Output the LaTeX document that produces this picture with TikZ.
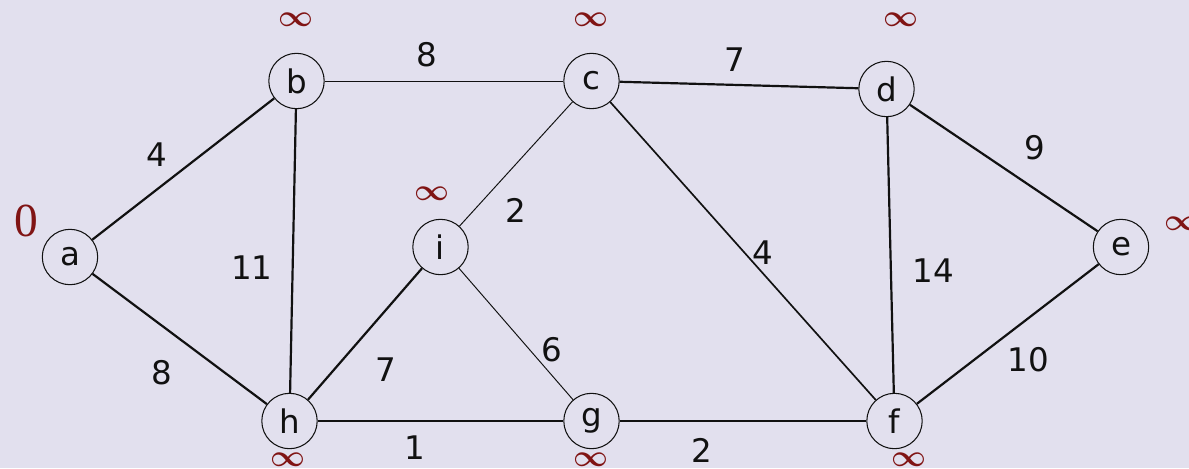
\documentclass[tikz,border=0pt]{standalone}
\usepackage{fontspec}
\setmainfont{DejaVu Sans}
\newfontfamily\numfont{Liberation Serif}
\usepackage{xcolor}
\definecolor{Canvas}{HTML}{E2E0EE}
\definecolor{Ink}{HTML}{111111}
\definecolor{DistRed}{HTML}{801414}

\begin{document}
\begin{tikzpicture}[
    x=0.02cm, y=-0.02cm,
    text=Ink,
    vertex/.style={
        circle,
        draw=Ink,
        line width=0.6pt,
        minimum size=1.108cm,
        inner sep=0pt,
        font=\fontsize{18.5}{22}\selectfont
    },
    heavy/.style={
        draw=Ink,
        line width=1.25pt
    },
    medium/.style={
        draw=Ink,
        line width=0.95pt
    },
    light/.style={
        draw=Ink,
        line width=0.55pt
    },
    weight/.style={
        inner sep=0pt,
        font=\fontsize{18.5}{22}\selectfont
    },
    dist/.style={
        inner sep=0pt,
        text=DistRed,
        font=\fontsize{17.5}{20}\selectfont\boldmath
    }
]

% Background
\fill[Canvas] (0,0) rectangle (1189,468);
\useasboundingbox (0,0) rectangle (1189,468);

% Vertices
\node[vertex] (a) at (70,257) {a};
\node[vertex] (b) at (296.5,81) {b};
\node[vertex] (c) at (591.5,81) {c};
\node[vertex] (d) at (886.5,89) {d};
\node[vertex] (e) at (1121,247) {e};
\node[vertex] (f) at (894.5,421) {f};
\node[vertex] (g) at (591.5,421) {g};
\node[vertex] (h) at (289.5,421) {h};
\node[vertex] (i) at (440.5,247) {i};

% Edges
\draw[heavy] (a) -- (b);
\draw[heavy] (a) -- (h);
\draw[heavy] (b) -- (h);
\draw[light] (b) -- (c);
\draw[heavy] (c) -- (d);
\draw[light] (c) -- (i);
\draw[medium] (c) -- (f);
\draw[heavy] (d) -- (e);
\draw[heavy] (d) -- (f);
\draw[heavy] (e) -- (f);
\draw[heavy] (h) -- (i);
\draw[light] (i) -- (g);
\draw[heavy] (h) -- (g);
\draw[heavy] (g) -- (f);

% Weights
\node[weight] (wab) at (157,155) {4};
\node[weight] (wah) at (162,373) {8};
\node[weight] (wbh) at (252,268) {11};
\node[weight] (wbc) at (427,55) {8};
\node[weight] (wcd) at (735,60) {7};
\node[weight] (wci) at (516,210) {2};
\node[weight] (wcf) at (763,253) {4};
\node[weight] (wde) at (1035,148) {9};
\node[weight] (wdf) at (933,271) {14};
\node[weight] (wef) at (1028,360) {10};
\node[weight] (whi) at (386,370) {7};
\node[weight] (wig) at (552,350) {6};
\node[weight] (whg) at (415,448) {1};
\node[weight] (wgf) at (702,450) {2};

% Distances
\node[dist, font=\numfont\fontsize{27}{30}\selectfont] (da) at (26,221) {0};
\node[dist] (db) at (296,20) {$\infty$};
\node[dist] (dc) at (591,20) {$\infty$};
\node[dist] (dd) at (901,20) {$\infty$};
\node[dist] (di) at (432,194) {$\infty$};
\node[dist] (de) at (1182,224) {$\infty$};
\node[dist] (dh) at (288,460) {$\infty$};
\node[dist] (dg) at (591,460) {$\infty$};
\node[dist] (df) at (909,460) {$\infty$};

\end{tikzpicture}
\end{document}
